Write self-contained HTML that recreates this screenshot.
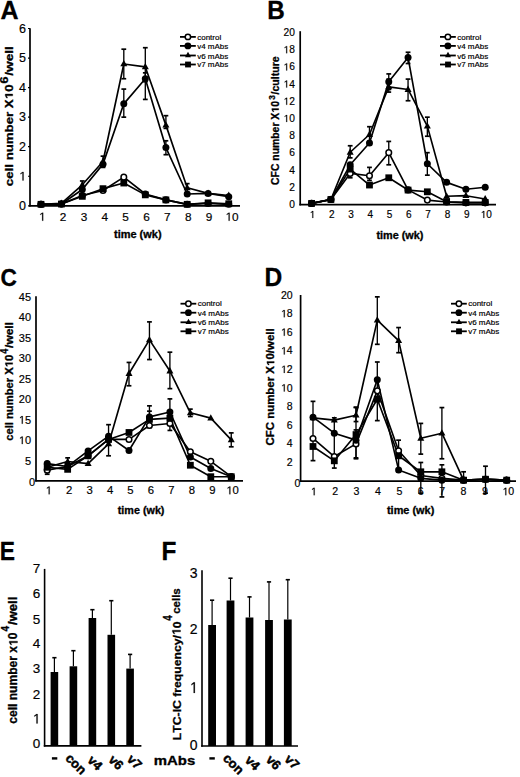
<!DOCTYPE html>
<html><head><meta charset="utf-8"><style>
html,body{margin:0;padding:0;background:#fff;}
svg{display:block;}
</style></head><body>
<svg width="520" height="777" viewBox="0 0 520 777" font-family='"Liberation Sans", sans-serif' fill="#000">
<style>text{stroke:#000;stroke-width:0.18px;stroke-linejoin:round;font-kerning:none}text[font-weight="bold"]{stroke-width:0.3px}</style>
<rect width="520" height="777" fill="#fff"/>
<line x1="30" y1="28.2" x2="30" y2="206.6" stroke="#000" stroke-width="1.7" stroke-linecap="butt"/>
<line x1="29.2" y1="205.8" x2="240" y2="205.8" stroke="#000" stroke-width="1.7" stroke-linecap="butt"/>
<line x1="28" y1="205.8" x2="30" y2="205.8" stroke="#000" stroke-width="1.2" stroke-linecap="butt"/>
<line x1="28" y1="176.25" x2="30" y2="176.25" stroke="#000" stroke-width="1.2" stroke-linecap="butt"/>
<line x1="28" y1="146.7" x2="30" y2="146.7" stroke="#000" stroke-width="1.2" stroke-linecap="butt"/>
<line x1="28" y1="117.15" x2="30" y2="117.15" stroke="#000" stroke-width="1.2" stroke-linecap="butt"/>
<line x1="28" y1="87.6" x2="30" y2="87.6" stroke="#000" stroke-width="1.2" stroke-linecap="butt"/>
<line x1="28" y1="58.05" x2="30" y2="58.05" stroke="#000" stroke-width="1.2" stroke-linecap="butt"/>
<line x1="28" y1="28.5" x2="30" y2="28.5" stroke="#000" stroke-width="1.2" stroke-linecap="butt"/>
<line x1="82.3" y1="180.98" x2="82.3" y2="188.07" stroke="#000" stroke-width="1.35" stroke-linecap="butt"/>
<line x1="79.9" y1="180.98" x2="84.7" y2="180.98" stroke="#000" stroke-width="1.7" stroke-linecap="butt"/>
<line x1="79.9" y1="188.07" x2="84.7" y2="188.07" stroke="#000" stroke-width="1.7" stroke-linecap="butt"/>
<line x1="103" y1="156.16" x2="103" y2="167.39" stroke="#000" stroke-width="1.35" stroke-linecap="butt"/>
<line x1="100.6" y1="156.16" x2="105.4" y2="156.16" stroke="#000" stroke-width="1.7" stroke-linecap="butt"/>
<line x1="100.6" y1="167.39" x2="105.4" y2="167.39" stroke="#000" stroke-width="1.7" stroke-linecap="butt"/>
<line x1="123.8" y1="49.19" x2="123.8" y2="78.74" stroke="#000" stroke-width="1.35" stroke-linecap="butt"/>
<line x1="121.4" y1="49.19" x2="126.2" y2="49.19" stroke="#000" stroke-width="1.7" stroke-linecap="butt"/>
<line x1="121.4" y1="78.74" x2="126.2" y2="78.74" stroke="#000" stroke-width="1.7" stroke-linecap="butt"/>
<line x1="123.8" y1="89.08" x2="123.8" y2="117.15" stroke="#000" stroke-width="1.35" stroke-linecap="butt"/>
<line x1="121.4" y1="89.08" x2="126.2" y2="89.08" stroke="#000" stroke-width="1.7" stroke-linecap="butt"/>
<line x1="121.4" y1="117.15" x2="126.2" y2="117.15" stroke="#000" stroke-width="1.7" stroke-linecap="butt"/>
<line x1="145.3" y1="47.71" x2="145.3" y2="81.69" stroke="#000" stroke-width="1.35" stroke-linecap="butt"/>
<line x1="142.9" y1="47.71" x2="147.7" y2="47.71" stroke="#000" stroke-width="1.7" stroke-linecap="butt"/>
<line x1="142.9" y1="81.69" x2="147.7" y2="81.69" stroke="#000" stroke-width="1.7" stroke-linecap="butt"/>
<line x1="145.3" y1="72.83" x2="145.3" y2="99.42" stroke="#000" stroke-width="1.35" stroke-linecap="butt"/>
<line x1="142.9" y1="72.83" x2="147.7" y2="72.83" stroke="#000" stroke-width="1.7" stroke-linecap="butt"/>
<line x1="142.9" y1="99.42" x2="147.7" y2="99.42" stroke="#000" stroke-width="1.7" stroke-linecap="butt"/>
<line x1="165.9" y1="115.67" x2="165.9" y2="128.38" stroke="#000" stroke-width="1.35" stroke-linecap="butt"/>
<line x1="163.5" y1="115.67" x2="168.3" y2="115.67" stroke="#000" stroke-width="1.7" stroke-linecap="butt"/>
<line x1="163.5" y1="128.38" x2="168.3" y2="128.38" stroke="#000" stroke-width="1.7" stroke-linecap="butt"/>
<line x1="165.9" y1="140.79" x2="165.9" y2="154.68" stroke="#000" stroke-width="1.35" stroke-linecap="butt"/>
<line x1="163.5" y1="140.79" x2="168.3" y2="140.79" stroke="#000" stroke-width="1.7" stroke-linecap="butt"/>
<line x1="163.5" y1="154.68" x2="168.3" y2="154.68" stroke="#000" stroke-width="1.7" stroke-linecap="butt"/>
<line x1="187.2" y1="183.64" x2="187.2" y2="192.5" stroke="#000" stroke-width="1.35" stroke-linecap="butt"/>
<line x1="184.8" y1="183.64" x2="189.6" y2="183.64" stroke="#000" stroke-width="1.7" stroke-linecap="butt"/>
<line x1="184.8" y1="192.5" x2="189.6" y2="192.5" stroke="#000" stroke-width="1.7" stroke-linecap="butt"/>
<path d="M41 204.32L61.4 204.03L82.3 195.46L103 190.43L123.8 177.14L145.3 193.98L165.9 199.89L187.2 204.32L208.1 203.44L228.75 204.32" fill="none" stroke="#000" stroke-width="1.65" stroke-linejoin="round"/>
<path d="M41 204.32L61.4 204.03L82.3 189.55L103 164.13L123.8 103.85L145.3 78.74L165.9 147.59L187.2 193.98L208.1 193.39L228.75 196.64" fill="none" stroke="#000" stroke-width="1.65" stroke-linejoin="round"/>
<path d="M41 204.32L61.4 203.44L82.3 184.82L103 161.48L123.8 63.96L145.3 66.91L165.9 125.13L187.2 187.77L208.1 193.39L228.75 195.46" fill="none" stroke="#000" stroke-width="1.65" stroke-linejoin="round"/>
<path d="M41 204.32L61.4 204.03L82.3 196.34L103 188.66L123.8 183.05L145.3 194.87L165.9 199.89L187.2 204.32L208.1 202.84L228.75 203.73" fill="none" stroke="#000" stroke-width="1.65" stroke-linejoin="round"/>
<circle cx="41" cy="204.32" r="2.8" fill="#fff" stroke="#000" stroke-width="1.5"/>
<circle cx="61.4" cy="204.03" r="2.8" fill="#fff" stroke="#000" stroke-width="1.5"/>
<circle cx="82.3" cy="195.46" r="2.8" fill="#fff" stroke="#000" stroke-width="1.5"/>
<circle cx="103" cy="190.43" r="2.8" fill="#fff" stroke="#000" stroke-width="1.5"/>
<circle cx="123.8" cy="177.14" r="2.8" fill="#fff" stroke="#000" stroke-width="1.5"/>
<circle cx="145.3" cy="193.98" r="2.8" fill="#fff" stroke="#000" stroke-width="1.5"/>
<circle cx="165.9" cy="199.89" r="2.8" fill="#fff" stroke="#000" stroke-width="1.5"/>
<circle cx="187.2" cy="204.32" r="2.8" fill="#fff" stroke="#000" stroke-width="1.5"/>
<circle cx="208.1" cy="203.44" r="2.8" fill="#fff" stroke="#000" stroke-width="1.5"/>
<circle cx="228.75" cy="204.32" r="2.8" fill="#fff" stroke="#000" stroke-width="1.5"/>
<circle cx="41" cy="204.32" r="3.5" fill="#000"/>
<circle cx="61.4" cy="204.03" r="3.5" fill="#000"/>
<circle cx="82.3" cy="189.55" r="3.5" fill="#000"/>
<circle cx="103" cy="164.13" r="3.5" fill="#000"/>
<circle cx="123.8" cy="103.85" r="3.5" fill="#000"/>
<circle cx="145.3" cy="78.74" r="3.5" fill="#000"/>
<circle cx="165.9" cy="147.59" r="3.5" fill="#000"/>
<circle cx="187.2" cy="193.98" r="3.5" fill="#000"/>
<circle cx="208.1" cy="193.39" r="3.5" fill="#000"/>
<circle cx="228.75" cy="196.64" r="3.5" fill="#000"/>
<path d="M41 200.42L44.5 206.72L37.5 206.72Z" fill="#000"/>
<path d="M61.4 199.53L64.9 205.83L57.9 205.83Z" fill="#000"/>
<path d="M82.3 180.91L85.8 187.21L78.8 187.21Z" fill="#000"/>
<path d="M103 157.57L106.5 163.87L99.5 163.87Z" fill="#000"/>
<path d="M123.8 60.05L127.3 66.35L120.3 66.35Z" fill="#000"/>
<path d="M145.3 63.01L148.8 69.31L141.8 69.31Z" fill="#000"/>
<path d="M165.9 121.22L169.4 127.52L162.4 127.52Z" fill="#000"/>
<path d="M187.2 183.87L190.7 190.17L183.7 190.17Z" fill="#000"/>
<path d="M208.1 189.48L211.6 195.78L204.6 195.78Z" fill="#000"/>
<path d="M228.75 191.55L232.25 197.85L225.25 197.85Z" fill="#000"/>
<rect x="37.6" y="200.93" width="6.79" height="6.79" fill="#000"/>
<rect x="58" y="200.63" width="6.79" height="6.79" fill="#000"/>
<rect x="78.91" y="192.95" width="6.79" height="6.79" fill="#000"/>
<rect x="99.61" y="185.27" width="6.79" height="6.79" fill="#000"/>
<rect x="120.41" y="179.65" width="6.79" height="6.79" fill="#000"/>
<rect x="141.91" y="191.47" width="6.79" height="6.79" fill="#000"/>
<rect x="162.5" y="196.5" width="6.79" height="6.79" fill="#000"/>
<rect x="183.8" y="200.93" width="6.79" height="6.79" fill="#000"/>
<rect x="204.7" y="199.45" width="6.79" height="6.79" fill="#000"/>
<rect x="225.35" y="200.34" width="6.79" height="6.79" fill="#000"/>
<line x1="300.2" y1="31.2" x2="300.2" y2="205.4" stroke="#000" stroke-width="1.7" stroke-linecap="butt"/>
<line x1="299.4" y1="204.6" x2="496" y2="204.6" stroke="#000" stroke-width="1.7" stroke-linecap="butt"/>
<line x1="350.18" y1="145.75" x2="350.18" y2="157.86" stroke="#000" stroke-width="1.35" stroke-linecap="butt"/>
<line x1="347.78" y1="145.75" x2="352.58" y2="145.75" stroke="#000" stroke-width="1.7" stroke-linecap="butt"/>
<line x1="347.78" y1="157.86" x2="352.58" y2="157.86" stroke="#000" stroke-width="1.7" stroke-linecap="butt"/>
<line x1="350.18" y1="169.11" x2="350.18" y2="177.77" stroke="#000" stroke-width="1.35" stroke-linecap="butt"/>
<line x1="347.78" y1="169.11" x2="352.58" y2="169.11" stroke="#000" stroke-width="1.7" stroke-linecap="butt"/>
<line x1="347.78" y1="177.77" x2="352.58" y2="177.77" stroke="#000" stroke-width="1.7" stroke-linecap="butt"/>
<line x1="369.47" y1="126.7" x2="369.47" y2="141.42" stroke="#000" stroke-width="1.35" stroke-linecap="butt"/>
<line x1="367.07" y1="126.7" x2="371.87" y2="126.7" stroke="#000" stroke-width="1.7" stroke-linecap="butt"/>
<line x1="367.07" y1="141.42" x2="371.87" y2="141.42" stroke="#000" stroke-width="1.7" stroke-linecap="butt"/>
<line x1="369.47" y1="167.38" x2="369.47" y2="180.37" stroke="#000" stroke-width="1.35" stroke-linecap="butt"/>
<line x1="367.07" y1="167.38" x2="371.87" y2="167.38" stroke="#000" stroke-width="1.7" stroke-linecap="butt"/>
<line x1="367.07" y1="180.37" x2="371.87" y2="180.37" stroke="#000" stroke-width="1.7" stroke-linecap="butt"/>
<line x1="388.76" y1="141.42" x2="388.76" y2="164.79" stroke="#000" stroke-width="1.35" stroke-linecap="butt"/>
<line x1="386.36" y1="141.42" x2="391.16" y2="141.42" stroke="#000" stroke-width="1.7" stroke-linecap="butt"/>
<line x1="386.36" y1="164.79" x2="391.16" y2="164.79" stroke="#000" stroke-width="1.7" stroke-linecap="butt"/>
<line x1="388.76" y1="73.91" x2="388.76" y2="89.49" stroke="#000" stroke-width="1.35" stroke-linecap="butt"/>
<line x1="386.36" y1="73.91" x2="391.16" y2="73.91" stroke="#000" stroke-width="1.7" stroke-linecap="butt"/>
<line x1="386.36" y1="89.49" x2="391.16" y2="89.49" stroke="#000" stroke-width="1.7" stroke-linecap="butt"/>
<line x1="388.76" y1="79.1" x2="388.76" y2="92.09" stroke="#000" stroke-width="1.35" stroke-linecap="butt"/>
<line x1="386.36" y1="79.1" x2="391.16" y2="79.1" stroke="#000" stroke-width="1.7" stroke-linecap="butt"/>
<line x1="386.36" y1="92.09" x2="391.16" y2="92.09" stroke="#000" stroke-width="1.7" stroke-linecap="butt"/>
<line x1="408.05" y1="52.27" x2="408.05" y2="63.52" stroke="#000" stroke-width="1.35" stroke-linecap="butt"/>
<line x1="405.65" y1="52.27" x2="410.45" y2="52.27" stroke="#000" stroke-width="1.7" stroke-linecap="butt"/>
<line x1="405.65" y1="63.52" x2="410.45" y2="63.52" stroke="#000" stroke-width="1.7" stroke-linecap="butt"/>
<line x1="408.05" y1="79.1" x2="408.05" y2="100.74" stroke="#000" stroke-width="1.35" stroke-linecap="butt"/>
<line x1="405.65" y1="79.1" x2="410.45" y2="79.1" stroke="#000" stroke-width="1.7" stroke-linecap="butt"/>
<line x1="405.65" y1="100.74" x2="410.45" y2="100.74" stroke="#000" stroke-width="1.7" stroke-linecap="butt"/>
<line x1="427.34" y1="152.67" x2="427.34" y2="175.17" stroke="#000" stroke-width="1.35" stroke-linecap="butt"/>
<line x1="424.94" y1="152.67" x2="429.74" y2="152.67" stroke="#000" stroke-width="1.7" stroke-linecap="butt"/>
<line x1="424.94" y1="175.17" x2="429.74" y2="175.17" stroke="#000" stroke-width="1.7" stroke-linecap="butt"/>
<line x1="427.34" y1="117.18" x2="427.34" y2="136.23" stroke="#000" stroke-width="1.35" stroke-linecap="butt"/>
<line x1="424.94" y1="117.18" x2="429.74" y2="117.18" stroke="#000" stroke-width="1.7" stroke-linecap="butt"/>
<line x1="424.94" y1="136.23" x2="429.74" y2="136.23" stroke="#000" stroke-width="1.7" stroke-linecap="butt"/>
<path d="M311.6 203.39L330.89 199.49L350.18 173.44L369.47 175.78L388.76 152.67L408.05 189.89L427.34 200.1L446.63 202L465.92 202.87L485.21 202.87" fill="none" stroke="#000" stroke-width="1.65" stroke-linejoin="round"/>
<path d="M311.6 203.39L330.89 199.49L350.18 164.79L369.47 142.98L388.76 81.7L408.05 57.47L427.34 163.75L446.63 182.36L465.92 189.28L485.21 187.29" fill="none" stroke="#000" stroke-width="1.65" stroke-linejoin="round"/>
<path d="M311.6 203.39L330.89 199.49L350.18 152.24L369.47 134.49L388.76 86.89L408.05 89.49L427.34 126.1L446.63 196.29L465.92 195.69L485.21 198.97" fill="none" stroke="#000" stroke-width="1.65" stroke-linejoin="round"/>
<path d="M311.6 203.39L330.89 199.49L350.18 169.11L369.47 185.04L388.76 177.77L408.05 190.06L427.34 191.79L446.63 201.74L465.92 202.44L485.21 202.44" fill="none" stroke="#000" stroke-width="1.65" stroke-linejoin="round"/>
<circle cx="311.6" cy="203.39" r="2.8" fill="#fff" stroke="#000" stroke-width="1.5"/>
<circle cx="330.89" cy="199.49" r="2.8" fill="#fff" stroke="#000" stroke-width="1.5"/>
<circle cx="350.18" cy="173.44" r="2.8" fill="#fff" stroke="#000" stroke-width="1.5"/>
<circle cx="369.47" cy="175.78" r="2.8" fill="#fff" stroke="#000" stroke-width="1.5"/>
<circle cx="388.76" cy="152.67" r="2.8" fill="#fff" stroke="#000" stroke-width="1.5"/>
<circle cx="408.05" cy="189.89" r="2.8" fill="#fff" stroke="#000" stroke-width="1.5"/>
<circle cx="427.34" cy="200.1" r="2.8" fill="#fff" stroke="#000" stroke-width="1.5"/>
<circle cx="446.63" cy="202" r="2.8" fill="#fff" stroke="#000" stroke-width="1.5"/>
<circle cx="465.92" cy="202.87" r="2.8" fill="#fff" stroke="#000" stroke-width="1.5"/>
<circle cx="485.21" cy="202.87" r="2.8" fill="#fff" stroke="#000" stroke-width="1.5"/>
<circle cx="311.6" cy="203.39" r="3.5" fill="#000"/>
<circle cx="330.89" cy="199.49" r="3.5" fill="#000"/>
<circle cx="350.18" cy="164.79" r="3.5" fill="#000"/>
<circle cx="369.47" cy="142.98" r="3.5" fill="#000"/>
<circle cx="388.76" cy="81.7" r="3.5" fill="#000"/>
<circle cx="408.05" cy="57.47" r="3.5" fill="#000"/>
<circle cx="427.34" cy="163.75" r="3.5" fill="#000"/>
<circle cx="446.63" cy="182.36" r="3.5" fill="#000"/>
<circle cx="465.92" cy="189.28" r="3.5" fill="#000"/>
<circle cx="485.21" cy="187.29" r="3.5" fill="#000"/>
<path d="M311.6 199.48L315.1 205.78L308.1 205.78Z" fill="#000"/>
<path d="M330.89 195.59L334.39 201.89L327.39 201.89Z" fill="#000"/>
<path d="M350.18 148.33L353.68 154.63L346.68 154.63Z" fill="#000"/>
<path d="M369.47 130.59L372.97 136.89L365.97 136.89Z" fill="#000"/>
<path d="M388.76 82.99L392.26 89.29L385.26 89.29Z" fill="#000"/>
<path d="M408.05 85.58L411.55 91.88L404.55 91.88Z" fill="#000"/>
<path d="M427.34 122.19L430.84 128.49L423.84 128.49Z" fill="#000"/>
<path d="M446.63 192.39L450.13 198.69L443.13 198.69Z" fill="#000"/>
<path d="M465.92 191.78L469.42 198.08L462.42 198.08Z" fill="#000"/>
<path d="M485.21 195.07L488.71 201.37L481.71 201.37Z" fill="#000"/>
<rect x="308.21" y="199.99" width="6.79" height="6.79" fill="#000"/>
<rect x="327.5" y="196.1" width="6.79" height="6.79" fill="#000"/>
<rect x="346.79" y="165.72" width="6.79" height="6.79" fill="#000"/>
<rect x="366.08" y="181.64" width="6.79" height="6.79" fill="#000"/>
<rect x="385.37" y="174.37" width="6.79" height="6.79" fill="#000"/>
<rect x="404.66" y="186.66" width="6.79" height="6.79" fill="#000"/>
<rect x="423.95" y="188.4" width="6.79" height="6.79" fill="#000"/>
<rect x="443.24" y="198.35" width="6.79" height="6.79" fill="#000"/>
<rect x="462.53" y="199.04" width="6.79" height="6.79" fill="#000"/>
<rect x="481.82" y="199.04" width="6.79" height="6.79" fill="#000"/>
<line x1="36" y1="296.2" x2="36" y2="481.6" stroke="#000" stroke-width="1.7" stroke-linecap="butt"/>
<line x1="35.2" y1="480.8" x2="243" y2="480.8" stroke="#000" stroke-width="1.7" stroke-linecap="butt"/>
<line x1="47.2" y1="462.37" x2="47.2" y2="474.25" stroke="#000" stroke-width="1.35" stroke-linecap="butt"/>
<line x1="44.8" y1="462.37" x2="49.6" y2="462.37" stroke="#000" stroke-width="1.7" stroke-linecap="butt"/>
<line x1="44.8" y1="474.25" x2="49.6" y2="474.25" stroke="#000" stroke-width="1.7" stroke-linecap="butt"/>
<line x1="67.65" y1="457.86" x2="67.65" y2="470.56" stroke="#000" stroke-width="1.35" stroke-linecap="butt"/>
<line x1="65.25" y1="457.86" x2="70.05" y2="457.86" stroke="#000" stroke-width="1.7" stroke-linecap="butt"/>
<line x1="65.25" y1="470.56" x2="70.05" y2="470.56" stroke="#000" stroke-width="1.7" stroke-linecap="butt"/>
<line x1="108.55" y1="424.68" x2="108.55" y2="455.81" stroke="#000" stroke-width="1.35" stroke-linecap="butt"/>
<line x1="106.15" y1="424.68" x2="110.95" y2="424.68" stroke="#000" stroke-width="1.7" stroke-linecap="butt"/>
<line x1="106.15" y1="455.81" x2="110.95" y2="455.81" stroke="#000" stroke-width="1.7" stroke-linecap="butt"/>
<line x1="129" y1="362.43" x2="129" y2="385.77" stroke="#000" stroke-width="1.35" stroke-linecap="butt"/>
<line x1="126.6" y1="362.43" x2="131.4" y2="362.43" stroke="#000" stroke-width="1.7" stroke-linecap="butt"/>
<line x1="126.6" y1="385.77" x2="131.4" y2="385.77" stroke="#000" stroke-width="1.7" stroke-linecap="butt"/>
<line x1="149.45" y1="321.88" x2="149.45" y2="359.56" stroke="#000" stroke-width="1.35" stroke-linecap="butt"/>
<line x1="147.05" y1="321.88" x2="151.85" y2="321.88" stroke="#000" stroke-width="1.7" stroke-linecap="butt"/>
<line x1="147.05" y1="359.56" x2="151.85" y2="359.56" stroke="#000" stroke-width="1.7" stroke-linecap="butt"/>
<line x1="169.9" y1="352.19" x2="169.9" y2="388.64" stroke="#000" stroke-width="1.35" stroke-linecap="butt"/>
<line x1="167.5" y1="352.19" x2="172.3" y2="352.19" stroke="#000" stroke-width="1.7" stroke-linecap="butt"/>
<line x1="167.5" y1="388.64" x2="172.3" y2="388.64" stroke="#000" stroke-width="1.7" stroke-linecap="butt"/>
<line x1="149.45" y1="405.84" x2="149.45" y2="423.46" stroke="#000" stroke-width="1.35" stroke-linecap="butt"/>
<line x1="147.05" y1="405.84" x2="151.85" y2="405.84" stroke="#000" stroke-width="1.7" stroke-linecap="butt"/>
<line x1="147.05" y1="423.46" x2="151.85" y2="423.46" stroke="#000" stroke-width="1.7" stroke-linecap="butt"/>
<line x1="149.45" y1="411.17" x2="149.45" y2="427.55" stroke="#000" stroke-width="1.35" stroke-linecap="butt"/>
<line x1="147.05" y1="411.17" x2="151.85" y2="411.17" stroke="#000" stroke-width="1.7" stroke-linecap="butt"/>
<line x1="147.05" y1="427.55" x2="151.85" y2="427.55" stroke="#000" stroke-width="1.7" stroke-linecap="butt"/>
<line x1="169.9" y1="398.88" x2="169.9" y2="423.46" stroke="#000" stroke-width="1.35" stroke-linecap="butt"/>
<line x1="167.5" y1="398.88" x2="172.3" y2="398.88" stroke="#000" stroke-width="1.7" stroke-linecap="butt"/>
<line x1="167.5" y1="423.46" x2="172.3" y2="423.46" stroke="#000" stroke-width="1.7" stroke-linecap="butt"/>
<line x1="169.9" y1="417.31" x2="169.9" y2="430.42" stroke="#000" stroke-width="1.35" stroke-linecap="butt"/>
<line x1="167.5" y1="417.31" x2="172.3" y2="417.31" stroke="#000" stroke-width="1.7" stroke-linecap="butt"/>
<line x1="167.5" y1="430.42" x2="172.3" y2="430.42" stroke="#000" stroke-width="1.7" stroke-linecap="butt"/>
<line x1="190.35" y1="409.12" x2="190.35" y2="416.49" stroke="#000" stroke-width="1.35" stroke-linecap="butt"/>
<line x1="187.95" y1="409.12" x2="192.75" y2="409.12" stroke="#000" stroke-width="1.7" stroke-linecap="butt"/>
<line x1="187.95" y1="416.49" x2="192.75" y2="416.49" stroke="#000" stroke-width="1.7" stroke-linecap="butt"/>
<line x1="231.25" y1="432.88" x2="231.25" y2="446.8" stroke="#000" stroke-width="1.35" stroke-linecap="butt"/>
<line x1="228.85" y1="432.88" x2="233.65" y2="432.88" stroke="#000" stroke-width="1.7" stroke-linecap="butt"/>
<line x1="228.85" y1="446.8" x2="233.65" y2="446.8" stroke="#000" stroke-width="1.7" stroke-linecap="butt"/>
<path d="M47.2 470.15L67.65 466.46L88.1 455.81L108.55 439.43L129 439.43L149.45 425.5L169.9 423.46L190.35 451.72L210.8 461.34L231.25 476.7" fill="none" stroke="#000" stroke-width="1.65" stroke-linejoin="round"/>
<path d="M47.2 463.6L67.65 466.46L88.1 450.9L108.55 436.15L129 450.49L149.45 416.9L169.9 411.99L190.35 457.04L210.8 468.51L231.25 476.7" fill="none" stroke="#000" stroke-width="1.65" stroke-linejoin="round"/>
<path d="M47.2 467.28L67.65 461.55L88.1 463.6L108.55 443.94L129 373.48L149.45 339.9L169.9 371.03L190.35 412.81L210.8 418.13L231.25 439.84" fill="none" stroke="#000" stroke-width="1.65" stroke-linejoin="round"/>
<path d="M47.2 467.28L67.65 469.33L88.1 455.81L108.55 439.43L129 432.47L149.45 419.36L169.9 418.13L190.35 465.24L210.8 476.7L231.25 476.7" fill="none" stroke="#000" stroke-width="1.65" stroke-linejoin="round"/>
<circle cx="47.2" cy="470.15" r="2.8" fill="#fff" stroke="#000" stroke-width="1.5"/>
<circle cx="67.65" cy="466.46" r="2.8" fill="#fff" stroke="#000" stroke-width="1.5"/>
<circle cx="88.1" cy="455.81" r="2.8" fill="#fff" stroke="#000" stroke-width="1.5"/>
<circle cx="108.55" cy="439.43" r="2.8" fill="#fff" stroke="#000" stroke-width="1.5"/>
<circle cx="129" cy="439.43" r="2.8" fill="#fff" stroke="#000" stroke-width="1.5"/>
<circle cx="149.45" cy="425.5" r="2.8" fill="#fff" stroke="#000" stroke-width="1.5"/>
<circle cx="169.9" cy="423.46" r="2.8" fill="#fff" stroke="#000" stroke-width="1.5"/>
<circle cx="190.35" cy="451.72" r="2.8" fill="#fff" stroke="#000" stroke-width="1.5"/>
<circle cx="210.8" cy="461.34" r="2.8" fill="#fff" stroke="#000" stroke-width="1.5"/>
<circle cx="231.25" cy="476.7" r="2.8" fill="#fff" stroke="#000" stroke-width="1.5"/>
<circle cx="47.2" cy="463.6" r="3.5" fill="#000"/>
<circle cx="67.65" cy="466.46" r="3.5" fill="#000"/>
<circle cx="88.1" cy="450.9" r="3.5" fill="#000"/>
<circle cx="108.55" cy="436.15" r="3.5" fill="#000"/>
<circle cx="129" cy="450.49" r="3.5" fill="#000"/>
<circle cx="149.45" cy="416.9" r="3.5" fill="#000"/>
<circle cx="169.9" cy="411.99" r="3.5" fill="#000"/>
<circle cx="190.35" cy="457.04" r="3.5" fill="#000"/>
<circle cx="210.8" cy="468.51" r="3.5" fill="#000"/>
<circle cx="231.25" cy="476.7" r="3.5" fill="#000"/>
<path d="M47.2 463.38L50.7 469.68L43.7 469.68Z" fill="#000"/>
<path d="M67.65 457.64L71.15 463.94L64.15 463.94Z" fill="#000"/>
<path d="M88.1 459.69L91.6 465.99L84.6 465.99Z" fill="#000"/>
<path d="M108.55 440.03L112.05 446.33L105.05 446.33Z" fill="#000"/>
<path d="M129 369.58L132.5 375.88L125.5 375.88Z" fill="#000"/>
<path d="M149.45 335.99L152.95 342.29L145.95 342.29Z" fill="#000"/>
<path d="M169.9 367.12L173.4 373.42L166.4 373.42Z" fill="#000"/>
<path d="M190.35 408.9L193.85 415.2L186.85 415.2Z" fill="#000"/>
<path d="M210.8 414.23L214.3 420.53L207.3 420.53Z" fill="#000"/>
<path d="M231.25 435.93L234.75 442.23L227.75 442.23Z" fill="#000"/>
<rect x="43.8" y="463.89" width="6.79" height="6.79" fill="#000"/>
<rect x="64.26" y="465.94" width="6.79" height="6.79" fill="#000"/>
<rect x="84.7" y="452.42" width="6.79" height="6.79" fill="#000"/>
<rect x="105.16" y="436.04" width="6.79" height="6.79" fill="#000"/>
<rect x="125.61" y="429.07" width="6.79" height="6.79" fill="#000"/>
<rect x="146.05" y="415.97" width="6.79" height="6.79" fill="#000"/>
<rect x="166.5" y="414.74" width="6.79" height="6.79" fill="#000"/>
<rect x="186.96" y="461.84" width="6.79" height="6.79" fill="#000"/>
<rect x="207.41" y="473.31" width="6.79" height="6.79" fill="#000"/>
<rect x="227.85" y="473.31" width="6.79" height="6.79" fill="#000"/>
<line x1="300.6" y1="295" x2="300.6" y2="481.9" stroke="#000" stroke-width="1.7" stroke-linecap="butt"/>
<line x1="299.8" y1="481.1" x2="516" y2="481.1" stroke="#000" stroke-width="1.7" stroke-linecap="butt"/>
<line x1="313" y1="401.36" x2="313" y2="460.63" stroke="#000" stroke-width="1.35" stroke-linecap="butt"/>
<line x1="310.6" y1="401.36" x2="315.4" y2="401.36" stroke="#000" stroke-width="1.7" stroke-linecap="butt"/>
<line x1="310.6" y1="460.63" x2="315.4" y2="460.63" stroke="#000" stroke-width="1.7" stroke-linecap="butt"/>
<line x1="334.3" y1="417.83" x2="334.3" y2="468.07" stroke="#000" stroke-width="1.35" stroke-linecap="butt"/>
<line x1="331.9" y1="417.83" x2="336.7" y2="417.83" stroke="#000" stroke-width="1.7" stroke-linecap="butt"/>
<line x1="331.9" y1="468.07" x2="336.7" y2="468.07" stroke="#000" stroke-width="1.7" stroke-linecap="butt"/>
<line x1="356" y1="407.59" x2="356" y2="458.77" stroke="#000" stroke-width="1.35" stroke-linecap="butt"/>
<line x1="353.6" y1="407.59" x2="358.4" y2="407.59" stroke="#000" stroke-width="1.7" stroke-linecap="butt"/>
<line x1="353.6" y1="458.77" x2="358.4" y2="458.77" stroke="#000" stroke-width="1.7" stroke-linecap="butt"/>
<line x1="377.3" y1="296.86" x2="377.3" y2="344.32" stroke="#000" stroke-width="1.35" stroke-linecap="butt"/>
<line x1="374.9" y1="296.86" x2="379.7" y2="296.86" stroke="#000" stroke-width="1.7" stroke-linecap="butt"/>
<line x1="374.9" y1="344.32" x2="379.7" y2="344.32" stroke="#000" stroke-width="1.7" stroke-linecap="butt"/>
<line x1="377.3" y1="362" x2="377.3" y2="420.62" stroke="#000" stroke-width="1.35" stroke-linecap="butt"/>
<line x1="374.9" y1="362" x2="379.7" y2="362" stroke="#000" stroke-width="1.7" stroke-linecap="butt"/>
<line x1="374.9" y1="420.62" x2="379.7" y2="420.62" stroke="#000" stroke-width="1.7" stroke-linecap="butt"/>
<line x1="398.6" y1="327.57" x2="398.6" y2="352.69" stroke="#000" stroke-width="1.35" stroke-linecap="butt"/>
<line x1="396.2" y1="327.57" x2="401" y2="327.57" stroke="#000" stroke-width="1.7" stroke-linecap="butt"/>
<line x1="396.2" y1="352.69" x2="401" y2="352.69" stroke="#000" stroke-width="1.7" stroke-linecap="butt"/>
<line x1="420.8" y1="423.41" x2="420.8" y2="454.12" stroke="#000" stroke-width="1.35" stroke-linecap="butt"/>
<line x1="418.4" y1="423.41" x2="423.2" y2="423.41" stroke="#000" stroke-width="1.7" stroke-linecap="butt"/>
<line x1="418.4" y1="454.12" x2="423.2" y2="454.12" stroke="#000" stroke-width="1.7" stroke-linecap="butt"/>
<line x1="441.9" y1="407.59" x2="441.9" y2="458.77" stroke="#000" stroke-width="1.35" stroke-linecap="butt"/>
<line x1="439.5" y1="407.59" x2="444.3" y2="407.59" stroke="#000" stroke-width="1.7" stroke-linecap="butt"/>
<line x1="439.5" y1="458.77" x2="444.3" y2="458.77" stroke="#000" stroke-width="1.7" stroke-linecap="butt"/>
<line x1="398.6" y1="440.16" x2="398.6" y2="471.8" stroke="#000" stroke-width="1.35" stroke-linecap="butt"/>
<line x1="396.2" y1="440.16" x2="401" y2="440.16" stroke="#000" stroke-width="1.7" stroke-linecap="butt"/>
<line x1="396.2" y1="471.8" x2="401" y2="471.8" stroke="#000" stroke-width="1.7" stroke-linecap="butt"/>
<line x1="420.8" y1="462.49" x2="420.8" y2="493.2" stroke="#000" stroke-width="1.35" stroke-linecap="butt"/>
<line x1="418.4" y1="462.49" x2="423.2" y2="462.49" stroke="#000" stroke-width="1.7" stroke-linecap="butt"/>
<line x1="418.4" y1="493.2" x2="423.2" y2="493.2" stroke="#000" stroke-width="1.7" stroke-linecap="butt"/>
<line x1="441.9" y1="464.82" x2="441.9" y2="496.92" stroke="#000" stroke-width="1.35" stroke-linecap="butt"/>
<line x1="439.5" y1="464.82" x2="444.3" y2="464.82" stroke="#000" stroke-width="1.7" stroke-linecap="butt"/>
<line x1="439.5" y1="496.92" x2="444.3" y2="496.92" stroke="#000" stroke-width="1.7" stroke-linecap="butt"/>
<line x1="463.6" y1="471.8" x2="463.6" y2="481.1" stroke="#000" stroke-width="1.35" stroke-linecap="butt"/>
<line x1="461.2" y1="471.8" x2="466" y2="471.8" stroke="#000" stroke-width="1.7" stroke-linecap="butt"/>
<line x1="461.2" y1="481.1" x2="466" y2="481.1" stroke="#000" stroke-width="1.7" stroke-linecap="butt"/>
<line x1="485.5" y1="466.21" x2="485.5" y2="493.2" stroke="#000" stroke-width="1.35" stroke-linecap="butt"/>
<line x1="483.1" y1="466.21" x2="487.9" y2="466.21" stroke="#000" stroke-width="1.7" stroke-linecap="butt"/>
<line x1="483.1" y1="493.2" x2="487.9" y2="493.2" stroke="#000" stroke-width="1.7" stroke-linecap="butt"/>
<line x1="356" y1="407.13" x2="356" y2="421.55" stroke="#000" stroke-width="1.35" stroke-linecap="butt"/>
<line x1="353.6" y1="407.13" x2="358.4" y2="407.13" stroke="#000" stroke-width="1.7" stroke-linecap="butt"/>
<line x1="353.6" y1="421.55" x2="358.4" y2="421.55" stroke="#000" stroke-width="1.7" stroke-linecap="butt"/>
<line x1="356" y1="429.92" x2="356" y2="457.84" stroke="#000" stroke-width="1.35" stroke-linecap="butt"/>
<line x1="353.6" y1="429.92" x2="358.4" y2="429.92" stroke="#000" stroke-width="1.7" stroke-linecap="butt"/>
<line x1="353.6" y1="457.84" x2="358.4" y2="457.84" stroke="#000" stroke-width="1.7" stroke-linecap="butt"/>
<path d="M313 438.48L334.3 456.53L356 443.88L377.3 390.84L398.6 450.77L420.8 475.52L441.9 478.31L463.6 480.17L485.5 479.24L506.7 480.17" fill="none" stroke="#000" stroke-width="1.65" stroke-linejoin="round"/>
<path d="M313 417.17L334.3 433.18L356 440.16L377.3 379.68L398.6 469.93L420.8 478.31L441.9 480.17L463.6 480.17L485.5 479.24L506.7 480.17" fill="none" stroke="#000" stroke-width="1.65" stroke-linejoin="round"/>
<path d="M313 417.83L334.3 420.15L356 415.22L377.3 320.12L398.6 340.59L420.8 438.3L441.9 433.18L463.6 480.17L485.5 479.24L506.7 480.17" fill="none" stroke="#000" stroke-width="1.65" stroke-linejoin="round"/>
<path d="M313 446.49L334.3 460.82L356 434.58L377.3 399.22L398.6 455.79L420.8 471.8L441.9 471.8L463.6 480.17L485.5 479.24L506.7 480.17" fill="none" stroke="#000" stroke-width="1.65" stroke-linejoin="round"/>
<circle cx="313" cy="438.48" r="2.8" fill="#fff" stroke="#000" stroke-width="1.5"/>
<circle cx="334.3" cy="456.53" r="2.8" fill="#fff" stroke="#000" stroke-width="1.5"/>
<circle cx="356" cy="443.88" r="2.8" fill="#fff" stroke="#000" stroke-width="1.5"/>
<circle cx="377.3" cy="390.84" r="2.8" fill="#fff" stroke="#000" stroke-width="1.5"/>
<circle cx="398.6" cy="450.77" r="2.8" fill="#fff" stroke="#000" stroke-width="1.5"/>
<circle cx="420.8" cy="475.52" r="2.8" fill="#fff" stroke="#000" stroke-width="1.5"/>
<circle cx="441.9" cy="478.31" r="2.8" fill="#fff" stroke="#000" stroke-width="1.5"/>
<circle cx="463.6" cy="480.17" r="2.8" fill="#fff" stroke="#000" stroke-width="1.5"/>
<circle cx="485.5" cy="479.24" r="2.8" fill="#fff" stroke="#000" stroke-width="1.5"/>
<circle cx="506.7" cy="480.17" r="2.8" fill="#fff" stroke="#000" stroke-width="1.5"/>
<circle cx="313" cy="417.17" r="3.5" fill="#000"/>
<circle cx="334.3" cy="433.18" r="3.5" fill="#000"/>
<circle cx="356" cy="440.16" r="3.5" fill="#000"/>
<circle cx="377.3" cy="379.68" r="3.5" fill="#000"/>
<circle cx="398.6" cy="469.93" r="3.5" fill="#000"/>
<circle cx="420.8" cy="478.31" r="3.5" fill="#000"/>
<circle cx="441.9" cy="480.17" r="3.5" fill="#000"/>
<circle cx="463.6" cy="480.17" r="3.5" fill="#000"/>
<circle cx="485.5" cy="479.24" r="3.5" fill="#000"/>
<circle cx="506.7" cy="480.17" r="3.5" fill="#000"/>
<path d="M313 413.92L316.5 420.22L309.5 420.22Z" fill="#000"/>
<path d="M334.3 416.25L337.8 422.55L330.8 422.55Z" fill="#000"/>
<path d="M356 411.31L359.5 417.61L352.5 417.61Z" fill="#000"/>
<path d="M377.3 316.22L380.8 322.52L373.8 322.52Z" fill="#000"/>
<path d="M398.6 336.69L402.1 342.99L395.1 342.99Z" fill="#000"/>
<path d="M420.8 434.39L424.3 440.69L417.3 440.69Z" fill="#000"/>
<path d="M441.9 429.27L445.4 435.57L438.4 435.57Z" fill="#000"/>
<path d="M463.6 476.26L467.1 482.56L460.1 482.56Z" fill="#000"/>
<path d="M485.5 475.33L489 481.63L482 481.63Z" fill="#000"/>
<path d="M506.7 476.26L510.2 482.56L503.2 482.56Z" fill="#000"/>
<rect x="309.61" y="443.09" width="6.79" height="6.79" fill="#000"/>
<rect x="330.91" y="457.42" width="6.79" height="6.79" fill="#000"/>
<rect x="352.61" y="431.18" width="6.79" height="6.79" fill="#000"/>
<rect x="373.91" y="395.82" width="6.79" height="6.79" fill="#000"/>
<rect x="395.21" y="452.4" width="6.79" height="6.79" fill="#000"/>
<rect x="417.41" y="468.4" width="6.79" height="6.79" fill="#000"/>
<rect x="438.5" y="468.4" width="6.79" height="6.79" fill="#000"/>
<rect x="460.21" y="476.77" width="6.79" height="6.79" fill="#000"/>
<rect x="482.11" y="475.84" width="6.79" height="6.79" fill="#000"/>
<rect x="503.31" y="476.77" width="6.79" height="6.79" fill="#000"/>
<text x="19.05" y="210.04" font-size="12.5" font-weight="normal">0</text>
<path transform="translate(19.05,180.49) scale(0.00610,-0.00610)" d="M560 0L560 1237L242 1010L242 1180L575 1409L741 1409L741 0Z" stroke="#000" stroke-width="29.5" stroke-linejoin="round"/>
<text x="19.05" y="150.94" font-size="12.5" font-weight="normal">2</text>
<text x="19.05" y="121.39" font-size="12.5" font-weight="normal">3</text>
<text x="19.05" y="91.84" font-size="12.5" font-weight="normal">4</text>
<text x="19.05" y="62.29" font-size="12.5" font-weight="normal">5</text>
<text x="19.05" y="32.74" font-size="12.5" font-weight="normal">6</text>
<path transform="translate(38.92,220.79) scale(0.00576,-0.00576)" d="M560 0L560 1237L242 1010L242 1180L575 1409L741 1409L741 0Z" stroke="#000" stroke-width="31.2" stroke-linejoin="round"/>
<text x="59.78" y="220.79" font-size="11.8" font-weight="normal">2</text>
<text x="80.64" y="220.79" font-size="11.8" font-weight="normal">3</text>
<text x="101.5" y="220.79" font-size="11.8" font-weight="normal">4</text>
<text x="122.36" y="220.79" font-size="11.8" font-weight="normal">5</text>
<text x="143.22" y="220.79" font-size="11.8" font-weight="normal">6</text>
<text x="164.08" y="220.79" font-size="11.8" font-weight="normal">7</text>
<text x="184.94" y="220.79" font-size="11.8" font-weight="normal">8</text>
<text x="205.8" y="220.79" font-size="11.8" font-weight="normal">9</text>
<path transform="translate(225.38,220.79) scale(0.00576,-0.00576)" d="M560 0L560 1237L242 1010L242 1180L575 1409L741 1409L741 0Z" stroke="#000" stroke-width="31.2" stroke-linejoin="round"/><text x="231.94" y="220.79" font-size="11.8" font-weight="normal">0</text>
<text x="289.13" y="208.02" font-size="10.2" font-weight="normal">0</text>
<text x="289.13" y="190.82" font-size="10.2" font-weight="normal">2</text>
<text x="289.13" y="173.62" font-size="10.2" font-weight="normal">4</text>
<text x="289.13" y="156.42" font-size="10.2" font-weight="normal">6</text>
<text x="289.13" y="139.22" font-size="10.2" font-weight="normal">8</text>
<path transform="translate(283.45,122.02) scale(0.00498,-0.00498)" d="M560 0L560 1237L242 1010L242 1180L575 1409L741 1409L741 0Z" stroke="#000" stroke-width="36.1" stroke-linejoin="round"/><text x="289.13" y="122.02" font-size="10.2" font-weight="normal">0</text>
<path transform="translate(283.45,104.82) scale(0.00498,-0.00498)" d="M560 0L560 1237L242 1010L242 1180L575 1409L741 1409L741 0Z" stroke="#000" stroke-width="36.1" stroke-linejoin="round"/><text x="289.13" y="104.82" font-size="10.2" font-weight="normal">2</text>
<path transform="translate(283.45,87.62) scale(0.00498,-0.00498)" d="M560 0L560 1237L242 1010L242 1180L575 1409L741 1409L741 0Z" stroke="#000" stroke-width="36.1" stroke-linejoin="round"/><text x="289.13" y="87.62" font-size="10.2" font-weight="normal">4</text>
<path transform="translate(283.45,70.42) scale(0.00498,-0.00498)" d="M560 0L560 1237L242 1010L242 1180L575 1409L741 1409L741 0Z" stroke="#000" stroke-width="36.1" stroke-linejoin="round"/><text x="289.13" y="70.42" font-size="10.2" font-weight="normal">6</text>
<path transform="translate(283.45,53.22) scale(0.00498,-0.00498)" d="M560 0L560 1237L242 1010L242 1180L575 1409L741 1409L741 0Z" stroke="#000" stroke-width="36.1" stroke-linejoin="round"/><text x="289.13" y="53.22" font-size="10.2" font-weight="normal">8</text>
<text x="283.45" y="36.02" font-size="10.2" font-weight="normal">2</text><text x="289.13" y="36.02" font-size="10.2" font-weight="normal">0</text>
<path transform="translate(309.62,217.95) scale(0.00488,-0.00488)" d="M560 0L560 1237L242 1010L242 1180L575 1409L741 1409L741 0Z" stroke="#000" stroke-width="36.9" stroke-linejoin="round"/>
<text x="328.91" y="217.95" font-size="10" font-weight="normal">2</text>
<text x="348.2" y="217.95" font-size="10" font-weight="normal">3</text>
<text x="367.49" y="217.95" font-size="10" font-weight="normal">4</text>
<text x="386.78" y="217.95" font-size="10" font-weight="normal">5</text>
<text x="406.07" y="217.95" font-size="10" font-weight="normal">6</text>
<text x="425.36" y="217.95" font-size="10" font-weight="normal">7</text>
<text x="444.65" y="217.95" font-size="10" font-weight="normal">8</text>
<text x="463.94" y="217.95" font-size="10" font-weight="normal">9</text>
<path transform="translate(480.65,217.95) scale(0.00488,-0.00488)" d="M560 0L560 1237L242 1010L242 1180L575 1409L741 1409L741 0Z" stroke="#000" stroke-width="36.9" stroke-linejoin="round"/><text x="486.21" y="217.95" font-size="10" font-weight="normal">0</text>
<text x="28.88" y="486.1" font-size="11" font-weight="normal">0</text>
<text x="24.88" y="464.56" font-size="11" font-weight="normal">5</text>
<path transform="translate(18.76,444.12) scale(0.00537,-0.00537)" d="M560 0L560 1237L242 1010L242 1180L575 1409L741 1409L741 0Z" stroke="#000" stroke-width="33.5" stroke-linejoin="round"/><text x="24.88" y="444.12" font-size="11" font-weight="normal">0</text>
<path transform="translate(18.76,423.69) scale(0.00537,-0.00537)" d="M560 0L560 1237L242 1010L242 1180L575 1409L741 1409L741 0Z" stroke="#000" stroke-width="33.5" stroke-linejoin="round"/><text x="24.88" y="423.69" font-size="11" font-weight="normal">5</text>
<text x="18.76" y="403.25" font-size="11" font-weight="normal">2</text><text x="24.88" y="403.25" font-size="11" font-weight="normal">0</text>
<text x="18.76" y="382.81" font-size="11" font-weight="normal">2</text><text x="24.88" y="382.81" font-size="11" font-weight="normal">5</text>
<text x="18.76" y="362.37" font-size="11" font-weight="normal">3</text><text x="24.88" y="362.37" font-size="11" font-weight="normal">0</text>
<text x="18.76" y="341.93" font-size="11" font-weight="normal">3</text><text x="24.88" y="341.93" font-size="11" font-weight="normal">5</text>
<text x="18.76" y="321.48" font-size="11" font-weight="normal">4</text><text x="24.88" y="321.48" font-size="11" font-weight="normal">0</text>
<text x="18.76" y="301.05" font-size="11" font-weight="normal">4</text><text x="24.88" y="301.05" font-size="11" font-weight="normal">5</text>
<path transform="translate(45.56,494.31) scale(0.00552,-0.00552)" d="M560 0L560 1237L242 1010L242 1180L575 1409L741 1409L741 0Z" stroke="#000" stroke-width="32.6" stroke-linejoin="round"/>
<text x="66.01" y="494.31" font-size="11.3" font-weight="normal">2</text>
<text x="86.46" y="494.31" font-size="11.3" font-weight="normal">3</text>
<text x="106.91" y="494.31" font-size="11.3" font-weight="normal">4</text>
<text x="127.36" y="494.31" font-size="11.3" font-weight="normal">5</text>
<text x="147.81" y="494.31" font-size="11.3" font-weight="normal">6</text>
<text x="168.26" y="494.31" font-size="11.3" font-weight="normal">7</text>
<text x="188.71" y="494.31" font-size="11.3" font-weight="normal">8</text>
<text x="209.16" y="494.31" font-size="11.3" font-weight="normal">9</text>
<path transform="translate(226.27,494.31) scale(0.00552,-0.00552)" d="M560 0L560 1237L242 1010L242 1180L575 1409L741 1409L741 0Z" stroke="#000" stroke-width="32.6" stroke-linejoin="round"/><text x="232.55" y="494.31" font-size="11.3" font-weight="normal">0</text>
<text x="294.46" y="486.73" font-size="10.5" font-weight="normal">0</text>
<text x="286.76" y="465.77" font-size="10.5" font-weight="normal">2</text>
<text x="286.76" y="447.21" font-size="10.5" font-weight="normal">4</text>
<text x="286.76" y="428.65" font-size="10.5" font-weight="normal">6</text>
<text x="286.76" y="410.09" font-size="10.5" font-weight="normal">8</text>
<path transform="translate(280.92,391.53) scale(0.00513,-0.00513)" d="M560 0L560 1237L242 1010L242 1180L575 1409L741 1409L741 0Z" stroke="#000" stroke-width="35.1" stroke-linejoin="round"/><text x="286.76" y="391.53" font-size="10.5" font-weight="normal">0</text>
<path transform="translate(280.92,372.97) scale(0.00513,-0.00513)" d="M560 0L560 1237L242 1010L242 1180L575 1409L741 1409L741 0Z" stroke="#000" stroke-width="35.1" stroke-linejoin="round"/><text x="286.76" y="372.97" font-size="10.5" font-weight="normal">2</text>
<path transform="translate(280.92,354.41) scale(0.00513,-0.00513)" d="M560 0L560 1237L242 1010L242 1180L575 1409L741 1409L741 0Z" stroke="#000" stroke-width="35.1" stroke-linejoin="round"/><text x="286.76" y="354.41" font-size="10.5" font-weight="normal">4</text>
<path transform="translate(280.92,335.85) scale(0.00513,-0.00513)" d="M560 0L560 1237L242 1010L242 1180L575 1409L741 1409L741 0Z" stroke="#000" stroke-width="35.1" stroke-linejoin="round"/><text x="286.76" y="335.85" font-size="10.5" font-weight="normal">6</text>
<path transform="translate(280.92,317.29) scale(0.00513,-0.00513)" d="M560 0L560 1237L242 1010L242 1180L575 1409L741 1409L741 0Z" stroke="#000" stroke-width="35.1" stroke-linejoin="round"/><text x="286.76" y="317.29" font-size="10.5" font-weight="normal">8</text>
<text x="280.92" y="298.73" font-size="10.5" font-weight="normal">2</text><text x="286.76" y="298.73" font-size="10.5" font-weight="normal">0</text>
<path transform="translate(310.8,495.16) scale(0.00518,-0.00518)" d="M560 0L560 1237L242 1010L242 1180L575 1409L741 1409L741 0Z" stroke="#000" stroke-width="34.8" stroke-linejoin="round"/>
<text x="332.2" y="495.16" font-size="10.6" font-weight="normal">2</text>
<text x="353.6" y="495.16" font-size="10.6" font-weight="normal">3</text>
<text x="375" y="495.16" font-size="10.6" font-weight="normal">4</text>
<text x="396.4" y="495.16" font-size="10.6" font-weight="normal">5</text>
<text x="417.8" y="495.16" font-size="10.6" font-weight="normal">6</text>
<text x="439.2" y="495.16" font-size="10.6" font-weight="normal">7</text>
<text x="460.6" y="495.16" font-size="10.6" font-weight="normal">8</text>
<text x="482" y="495.16" font-size="10.6" font-weight="normal">9</text>
<path transform="translate(502.45,495.16) scale(0.00518,-0.00518)" d="M560 0L560 1237L242 1010L242 1180L575 1409L741 1409L741 0Z" stroke="#000" stroke-width="34.8" stroke-linejoin="round"/><text x="508.35" y="495.16" font-size="10.6" font-weight="normal">0</text>
<line x1="180" y1="36.9" x2="195.8" y2="36.9" stroke="#000" stroke-width="1.8" stroke-linecap="butt"/>
<circle cx="187.9" cy="36.9" r="2.7" fill="#fff" stroke="#000" stroke-width="1.5"/>
<text x="197.2" y="39.6" font-size="8" font-weight="normal" text-anchor="start" >control</text>
<line x1="180" y1="45.9" x2="195.8" y2="45.9" stroke="#000" stroke-width="1.8" stroke-linecap="butt"/>
<circle cx="187.9" cy="45.9" r="3.4" fill="#000"/>
<text x="197.2" y="49" font-size="8" font-weight="normal" text-anchor="start" >v4 mAbs</text>
<line x1="180" y1="55.5" x2="195.8" y2="55.5" stroke="#000" stroke-width="1.8" stroke-linecap="butt"/>
<path d="M188 51.85L191 57.25L185 57.25Z" fill="#000"/>
<text x="197.2" y="58.6" font-size="8" font-weight="normal" text-anchor="start" >v6 mAbs</text>
<line x1="180" y1="64.5" x2="195.8" y2="64.5" stroke="#000" stroke-width="1.8" stroke-linecap="butt"/>
<rect x="185.09" y="61.59" width="5.82" height="5.82" fill="#000"/>
<text x="197.2" y="67.2" font-size="8" font-weight="normal" text-anchor="start" >v7 mAbs</text>
<line x1="440" y1="36.9" x2="455.8" y2="36.9" stroke="#000" stroke-width="1.8" stroke-linecap="butt"/>
<circle cx="447.9" cy="36.9" r="2.7" fill="#fff" stroke="#000" stroke-width="1.5"/>
<text x="457.2" y="39.6" font-size="8" font-weight="normal" text-anchor="start" >control</text>
<line x1="440" y1="45.9" x2="455.8" y2="45.9" stroke="#000" stroke-width="1.8" stroke-linecap="butt"/>
<circle cx="447.9" cy="45.9" r="3.4" fill="#000"/>
<text x="457.2" y="49" font-size="8" font-weight="normal" text-anchor="start" >v4 mAbs</text>
<line x1="440" y1="55.5" x2="455.8" y2="55.5" stroke="#000" stroke-width="1.8" stroke-linecap="butt"/>
<path d="M448 51.85L451 57.25L445 57.25Z" fill="#000"/>
<text x="457.2" y="58.6" font-size="8" font-weight="normal" text-anchor="start" >v6 mAbs</text>
<line x1="440" y1="64.5" x2="455.8" y2="64.5" stroke="#000" stroke-width="1.8" stroke-linecap="butt"/>
<rect x="445.09" y="61.59" width="5.82" height="5.82" fill="#000"/>
<text x="457.2" y="67.2" font-size="8" font-weight="normal" text-anchor="start" >v7 mAbs</text>
<line x1="180.5" y1="303.7" x2="196.3" y2="303.7" stroke="#000" stroke-width="1.8" stroke-linecap="butt"/>
<circle cx="188.4" cy="303.7" r="2.7" fill="#fff" stroke="#000" stroke-width="1.5"/>
<text x="197.7" y="306.4" font-size="8" font-weight="normal" text-anchor="start" >control</text>
<line x1="180.5" y1="312.7" x2="196.3" y2="312.7" stroke="#000" stroke-width="1.8" stroke-linecap="butt"/>
<circle cx="188.4" cy="312.7" r="3.4" fill="#000"/>
<text x="197.7" y="315.8" font-size="8" font-weight="normal" text-anchor="start" >v4 mAbs</text>
<line x1="180.5" y1="322.3" x2="196.3" y2="322.3" stroke="#000" stroke-width="1.8" stroke-linecap="butt"/>
<path d="M188.5 318.65L191.5 324.05L185.5 324.05Z" fill="#000"/>
<text x="197.7" y="325.4" font-size="8" font-weight="normal" text-anchor="start" >v6 mAbs</text>
<line x1="180.5" y1="331.3" x2="196.3" y2="331.3" stroke="#000" stroke-width="1.8" stroke-linecap="butt"/>
<rect x="185.59" y="328.39" width="5.82" height="5.82" fill="#000"/>
<text x="197.7" y="334" font-size="8" font-weight="normal" text-anchor="start" >v7 mAbs</text>
<line x1="451" y1="303.7" x2="466.8" y2="303.7" stroke="#000" stroke-width="1.8" stroke-linecap="butt"/>
<circle cx="458.9" cy="303.7" r="2.7" fill="#fff" stroke="#000" stroke-width="1.5"/>
<text x="468.2" y="306.4" font-size="8" font-weight="normal" text-anchor="start" >control</text>
<line x1="451" y1="312.7" x2="466.8" y2="312.7" stroke="#000" stroke-width="1.8" stroke-linecap="butt"/>
<circle cx="458.9" cy="312.7" r="3.4" fill="#000"/>
<text x="468.2" y="315.8" font-size="8" font-weight="normal" text-anchor="start" >v4 mAbs</text>
<line x1="451" y1="322.3" x2="466.8" y2="322.3" stroke="#000" stroke-width="1.8" stroke-linecap="butt"/>
<path d="M459 318.65L462 324.05L456 324.05Z" fill="#000"/>
<text x="468.2" y="325.4" font-size="8" font-weight="normal" text-anchor="start" >v6 mAbs</text>
<line x1="451" y1="331.3" x2="466.8" y2="331.3" stroke="#000" stroke-width="1.8" stroke-linecap="butt"/>
<rect x="456.09" y="328.39" width="5.82" height="5.82" fill="#000"/>
<text x="468.2" y="334" font-size="8" font-weight="normal" text-anchor="start" >v7 mAbs</text>
<line x1="44.6" y1="568.9" x2="44.6" y2="746.6" stroke="#000" stroke-width="1.6" stroke-linecap="butt"/>
<line x1="43.8" y1="745.8" x2="141.4" y2="745.8" stroke="#000" stroke-width="1.7" stroke-linecap="butt"/>
<rect x="50.6" y="672" width="7.6" height="73.8" fill="#000"/>
<line x1="54.4" y1="657.5" x2="54.4" y2="672" stroke="#000" stroke-width="1.2" stroke-linecap="butt"/>
<line x1="52.3" y1="657.7" x2="56.5" y2="657.7" stroke="#000" stroke-width="1.6" stroke-linecap="butt"/>
<rect x="69.6" y="666.3" width="7.6" height="79.5" fill="#000"/>
<line x1="73.4" y1="650.5" x2="73.4" y2="666.3" stroke="#000" stroke-width="1.2" stroke-linecap="butt"/>
<line x1="71.3" y1="650.7" x2="75.5" y2="650.7" stroke="#000" stroke-width="1.6" stroke-linecap="butt"/>
<rect x="88.6" y="618" width="7.6" height="127.8" fill="#000"/>
<line x1="92.4" y1="609.5" x2="92.4" y2="618" stroke="#000" stroke-width="1.2" stroke-linecap="butt"/>
<line x1="90.3" y1="609.7" x2="94.5" y2="609.7" stroke="#000" stroke-width="1.6" stroke-linecap="butt"/>
<rect x="107.5" y="634.8" width="7.6" height="111" fill="#000"/>
<line x1="111.3" y1="600.5" x2="111.3" y2="634.8" stroke="#000" stroke-width="1.2" stroke-linecap="butt"/>
<line x1="109.2" y1="600.7" x2="113.4" y2="600.7" stroke="#000" stroke-width="1.6" stroke-linecap="butt"/>
<rect x="126.3" y="668.6" width="7.6" height="77.2" fill="#000"/>
<line x1="130.1" y1="654.2" x2="130.1" y2="668.6" stroke="#000" stroke-width="1.2" stroke-linecap="butt"/>
<line x1="128" y1="654.4" x2="132.2" y2="654.4" stroke="#000" stroke-width="1.6" stroke-linecap="butt"/>
<line x1="202" y1="570.3" x2="202" y2="746.8" stroke="#000" stroke-width="1.6" stroke-linecap="butt"/>
<line x1="201.2" y1="746" x2="298" y2="746" stroke="#000" stroke-width="1.7" stroke-linecap="butt"/>
<rect x="208.2" y="625" width="7.8" height="121" fill="#000"/>
<line x1="212.1" y1="600" x2="212.1" y2="625" stroke="#000" stroke-width="1.2" stroke-linecap="butt"/>
<line x1="210" y1="600.2" x2="214.2" y2="600.2" stroke="#000" stroke-width="1.6" stroke-linecap="butt"/>
<rect x="226.6" y="600.5" width="7.8" height="145.5" fill="#000"/>
<line x1="230.5" y1="578" x2="230.5" y2="600.5" stroke="#000" stroke-width="1.2" stroke-linecap="butt"/>
<line x1="228.4" y1="578.2" x2="232.6" y2="578.2" stroke="#000" stroke-width="1.6" stroke-linecap="butt"/>
<rect x="245.6" y="617.5" width="7.8" height="128.5" fill="#000"/>
<line x1="249.5" y1="596.7" x2="249.5" y2="617.5" stroke="#000" stroke-width="1.2" stroke-linecap="butt"/>
<line x1="247.4" y1="596.9" x2="251.6" y2="596.9" stroke="#000" stroke-width="1.6" stroke-linecap="butt"/>
<rect x="265.1" y="620" width="7.8" height="126" fill="#000"/>
<line x1="269" y1="581.7" x2="269" y2="620" stroke="#000" stroke-width="1.2" stroke-linecap="butt"/>
<line x1="266.9" y1="581.9" x2="271.1" y2="581.9" stroke="#000" stroke-width="1.6" stroke-linecap="butt"/>
<rect x="283.9" y="619.5" width="7.8" height="126.5" fill="#000"/>
<line x1="287.8" y1="579.5" x2="287.8" y2="619.5" stroke="#000" stroke-width="1.2" stroke-linecap="butt"/>
<line x1="285.7" y1="579.7" x2="289.9" y2="579.7" stroke="#000" stroke-width="1.6" stroke-linecap="butt"/>
<text x="32.75" y="748.39" font-size="13.5" font-weight="normal">0</text>
<path transform="translate(32.75,723.39) scale(0.00659,-0.00659)" d="M560 0L560 1237L242 1010L242 1180L575 1409L741 1409L741 0Z" stroke="#000" stroke-width="27.3" stroke-linejoin="round"/>
<text x="32.75" y="699.29" font-size="13.5" font-weight="normal">2</text>
<text x="32.75" y="673.49" font-size="13.5" font-weight="normal">3</text>
<text x="32.75" y="647.99" font-size="13.5" font-weight="normal">4</text>
<text x="32.75" y="623.59" font-size="13.5" font-weight="normal">5</text>
<text x="32.75" y="597.69" font-size="13.5" font-weight="normal">6</text>
<text x="32.75" y="572.59" font-size="13.5" font-weight="normal">7</text>
<g transform="translate(193.7,744.8) scale(1,1.1)"><text x="-3.89" y="4.97" font-size="14" font-weight="normal">0</text></g>
<g transform="translate(193.7,687.5) scale(1,1.1)"><path transform="translate(-3.89,4.97) scale(0.00684,-0.00684)" d="M560 0L560 1237L242 1010L242 1180L575 1409L741 1409L741 0Z" stroke="#000" stroke-width="26.3" stroke-linejoin="round"/></g>
<g transform="translate(193.7,628.6) scale(1,1.1)"><text x="-3.89" y="4.97" font-size="14" font-weight="normal">2</text></g>
<g transform="translate(193.7,572.6) scale(1,1.1)"><text x="-3.89" y="4.97" font-size="14" font-weight="normal">3</text></g>
<rect x="51.9" y="757.2" width="5.4" height="2.4" fill="#000"/>
<text transform="translate(64.7,759) rotate(45)" font-size="13" font-weight="bold" style="stroke-width:0.45px">con</text>
<text transform="translate(86.8,761) rotate(45)" font-size="13" font-weight="bold" style="stroke-width:0.45px">v4</text>
<text transform="translate(107.8,760.5) rotate(45)" font-size="13" font-weight="bold" style="stroke-width:0.45px">v6</text>
<text transform="translate(126.3,760) rotate(45)" font-size="13" font-weight="bold" style="stroke-width:0.45px">v7</text>
<rect x="209.4" y="757.2" width="5.4" height="2.4" fill="#000"/>
<text transform="translate(222.2,759) rotate(45)" font-size="13" font-weight="bold" style="stroke-width:0.45px">con</text>
<text transform="translate(244.3,761) rotate(45)" font-size="13" font-weight="bold" style="stroke-width:0.45px">v4</text>
<text transform="translate(265.3,760.5) rotate(45)" font-size="13" font-weight="bold" style="stroke-width:0.45px">v6</text>
<text transform="translate(283.8,760) rotate(45)" font-size="13" font-weight="bold" style="stroke-width:0.45px">v7</text>
<g transform="translate(0.45,18.7) scale(0.991,1)"><text font-size="25.22" font-weight="bold" >A</text></g>
<g transform="translate(267.2,18.55) scale(0.965,1)"><text font-size="25.14" font-weight="bold" >B</text></g>
<g transform="translate(0.59,286.05) scale(0.929,1)"><text font-size="24.51" font-weight="bold" >C</text></g>
<g transform="translate(264.38,285.6) scale(0.975,1)"><text font-size="25.22" font-weight="bold" >D</text></g>
<g transform="translate(-0.3,560.4) scale(0.891,1)"><text font-size="25.65" font-weight="bold" >E</text></g>
<g transform="translate(161.49,560.4) scale(0.962,1)"><text font-size="25.36" font-weight="bold" >F</text></g>
<g transform="translate(113.99,238.28) scale(1.087,1)"><text font-size="10.11" font-weight="bold" >time (wk)</text></g>
<g transform="translate(376.39,238.58) scale(1.075,1)"><text font-size="10.11" font-weight="bold" >time (wk)</text></g>
<g transform="translate(117.79,513.58) scale(1.066,1)"><text font-size="10.11" font-weight="bold" >time (wk)</text></g>
<g transform="translate(386.99,513.58) scale(1.080,1)"><text font-size="10.11" font-weight="bold" >time (wk)</text></g>
<g transform="translate(12.69,186.13) rotate(-90) scale(1.226,1)"><text x="0" font-size="10.81" font-weight="bold" >cell number X</text><path transform="translate(70.89,0) scale(0.00528,-0.00528)" d="M518 0L518 1170L180 959L180 1180L533 1409L799 1409L799 0Z" stroke="#000" stroke-width="56.8" stroke-linejoin="round"/><text x="76.91" font-size="10.81" font-weight="bold" >0</text></g>
<g transform="translate(8.4,83.4) rotate(-90) scale(1.233,1)"><text font-size="10.14" font-weight="bold" >6</text></g>
<g transform="translate(12.69,75.84) rotate(-90) scale(1.270,1)"><text font-size="10.81" font-weight="bold" >/well</text></g>
<g transform="translate(278.7,184.92) rotate(-90) scale(1.041,1)"><text x="0" font-size="10" font-weight="bold" >CFC number X</text><path transform="translate(69.45,0) scale(0.00488,-0.00488)" d="M518 0L518 1170L180 959L180 1180L533 1409L799 1409L799 0Z" stroke="#000" stroke-width="61.4" stroke-linejoin="round"/><text x="75.01" font-size="10" font-weight="bold" >0</text></g>
<g transform="translate(275.1,99.77) rotate(-90) scale(0.877,1)"><text font-size="9.58" font-weight="bold" >3</text></g>
<g transform="translate(278.7,94.51) rotate(-90) scale(1.059,1)"><text font-size="10" font-weight="bold" >/culture</text></g>
<g transform="translate(12.69,440.85) rotate(-90) scale(1.053,1)"><text x="0" font-size="10.68" font-weight="bold" >cell number X</text><path transform="translate(70.01,0) scale(0.00521,-0.00521)" d="M518 0L518 1170L180 959L180 1180L533 1409L799 1409L799 0Z" stroke="#000" stroke-width="57.6" stroke-linejoin="round"/><text x="75.95" font-size="10.68" font-weight="bold" >0</text></g>
<g transform="translate(8.3,353.78) rotate(-90) scale(0.906,1)"><text font-size="10" font-weight="bold" >4</text></g>
<g transform="translate(12.69,347.92) rotate(-90) scale(1.116,1)"><text font-size="10.68" font-weight="bold" >/well</text></g>
<g transform="translate(274.19,445.56) rotate(-90) scale(1.088,1)"><text x="0" font-size="10.54" font-weight="bold" >CFC number X</text><path transform="translate(73.2,0) scale(0.00515,-0.00515)" d="M518 0L518 1170L180 959L180 1180L533 1409L799 1409L799 0Z" stroke="#000" stroke-width="58.3" stroke-linejoin="round"/><text x="79.07" font-size="10.54" font-weight="bold" >0/well</text></g>
<g transform="translate(17.48,723.78) rotate(-90) scale(1.016,1)"><text x="0" font-size="11.89" font-weight="bold" >cell number x</text><path transform="translate(76.67,0) scale(0.00581,-0.00581)" d="M518 0L518 1170L180 959L180 1180L533 1409L799 1409L799 0Z" stroke="#000" stroke-width="51.7" stroke-linejoin="round"/><text x="83.28" font-size="11.89" font-weight="bold" >0</text></g>
<g transform="translate(8.9,631.6) rotate(-90) scale(0.896,1)"><text font-size="11.16" font-weight="bold" >4</text></g>
<g transform="translate(17.48,624.93) rotate(-90) scale(1.094,1)"><text font-size="11.89" font-weight="bold" >/well</text></g>
<g transform="translate(180.52,740.16) rotate(-90) scale(1.035,1)"><text x="0" font-size="11.81" font-weight="bold" >LTC-IC frequency/</text><path transform="translate(101.69,0) scale(0.00577,-0.00577)" d="M518 0L518 1170L180 959L180 1180L533 1409L799 1409L799 0Z" stroke="#000" stroke-width="52.0" stroke-linejoin="round"/><text x="108.26" font-size="11.81" font-weight="bold" >0</text></g>
<g transform="translate(171.8,620.7) rotate(-90) scale(0.841,1)"><text font-size="11.88" font-weight="bold" >4</text></g>
<g transform="translate(180.38,613.76) rotate(-90) scale(0.985,1)"><text font-size="11.62" font-weight="bold" >cells</text></g>
<g transform="translate(153.75,765.07) scale(1.176,1)"><text font-size="12.7" font-weight="bold" >mAbs</text></g>
</svg>
</body></html>
